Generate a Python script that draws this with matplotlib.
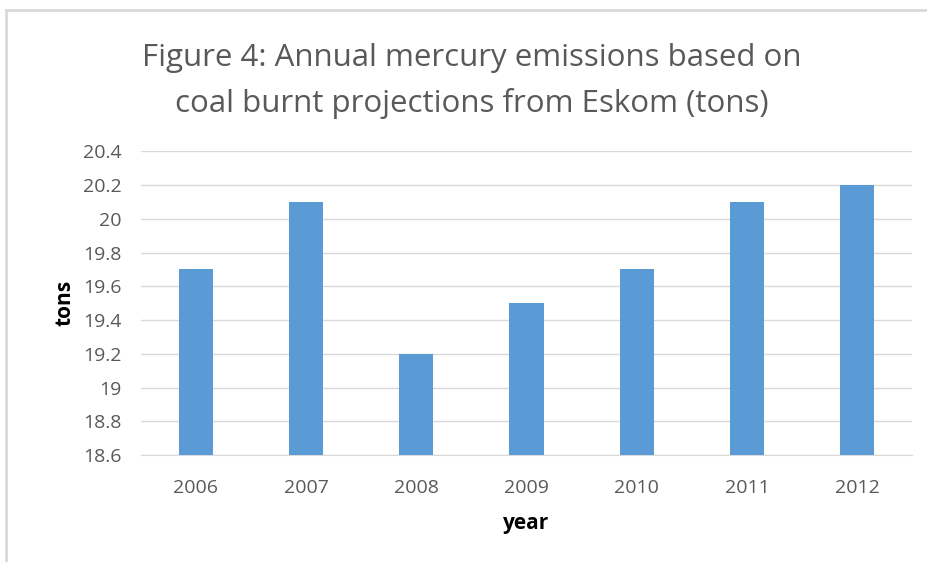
import matplotlib.pyplot as plt
from matplotlib.lines import Line2D

# data
years = ['2006', '2007', '2008', '2009', '2010', '2011', '2012']
mercury_tons = [19.7, 20.1, 19.2, 19.5, 19.7, 20.1, 20.2]
y_ticks = [18.6, 18.8, 19.0, 19.2, 19.4, 19.6, 19.8, 20.0, 20.2, 20.4]
y_tick_labels = ['18.6', '18.8', '19', '19.2', '19.4', '19.6', '19.8', '20', '20.2', '20.4']

plt.rcParams['font.family'] = ['Open Sans', 'DejaVu Sans']

fig = plt.figure(figsize=(9.27, 5.62), dpi=100)
ax = fig.add_axes([0.152, 0.190, 0.832, 0.541])

ax.bar(years, mercury_tons, width=0.31, color='#5B9BD5', zorder=3)
ax.set_ylim(18.6, 20.4)
ax.set_xlim(-0.5, len(years) - 0.5)
ax.set_yticks(y_ticks)
ax.set_yticklabels(y_tick_labels)

ax.grid(axis='y', color='#D9D9D9', linewidth=1, zorder=0)
for side in ['top', 'right', 'left']:
    ax.spines[side].set_visible(False)
ax.spines['bottom'].set_color('#D9D9D9')
ax.tick_params(axis='both', length=0, labelsize=14, labelcolor='#595959')
ax.tick_params(axis='x', pad=17)
ax.tick_params(axis='y', pad=14)

ax.set_xlabel('year', fontsize=15, fontweight='bold', labelpad=12)
ax.set_ylabel('tons', fontsize=15, fontweight='bold', labelpad=5)

fig.text(0.509, 0.856, 'Figure 4: Annual mercury emissions based on\ncoal burnt projections from Eskom (tons)',
         ha='center', va='center', fontsize=22.5, color='#595959', linespacing=1.6)

# outer chart border (only top and left visible in the crop)
fig.add_artist(Line2D([6 / 927, 6 / 927], [0, 1 - 10 / 562], transform=fig.transFigure,
                      color='#D9D9D9', linewidth=2))
fig.add_artist(Line2D([6 / 927, 1], [1 - 10 / 562, 1 - 10 / 562], transform=fig.transFigure,
                      color='#D9D9D9', linewidth=2))

plt.savefig('out.png', dpi=100)
